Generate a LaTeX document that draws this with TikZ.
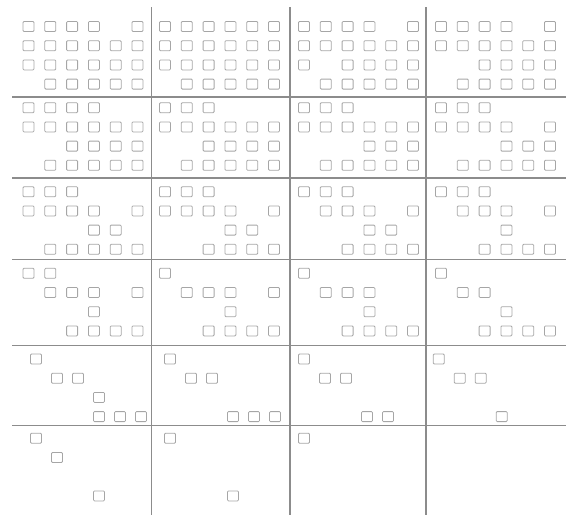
\documentclass[tikz,border=0pt]{standalone}
\usetikzlibrary{positioning}

% one cell of the table: name, x origin, y origin, column step, rows of filled slots
\newcommand{\cellsq}[5]{%
  \foreach \row [count=\i from 0] in {#5} {
    \foreach \j in \row {
      \ifnum\j<0\relax\else
        \node[sq] (#1-\i-\j) at ({#2+#4*\j},{#3+19.2*\i}) {};
      \fi
    }
  }%
}

\begin{document}
\begin{tikzpicture}[
  x=1pt, y=-1pt,
  sq/.style={draw=gray!70, line width=0.8pt, rounded corners=1pt, minimum width=11pt, minimum height=10pt, inner sep=0pt},
  rule/.style={draw=gray!90, line width=1.2pt}
]
\useasboundingbox (0,0) rectangle (566,515);

% table rules
\foreach \x [count=\k] in {151.5,290,426} {
  \coordinate (vt\k) at (\x,7);
  \coordinate (vb\k) at (\x,515);
  \draw[rule] (vt\k) -- (vb\k);
}
\foreach \y [count=\k] in {97,178,259.5,345.5,425.5} {
  \coordinate (hl\k) at (12,\y);
  \coordinate (hr\k) at (566,\y);
  \draw[rule] (hl\k) -- (hr\k);
}

% band 1
\cellsq{a1}{28.5}{26.5}{21.8}{{0,1,2,3,5},{0,1,2,3,4,5},{0,1,2,3,4,5},{1,2,3,4,5}}
\cellsq{a2}{165}{26.5}{21.8}{{0,1,2,3,4,5},{0,1,2,3,4,5},{0,1,2,3,4,5},{1,2,3,4,5}}
\cellsq{a3}{304}{26.5}{21.8}{{0,1,2,3,5},{0,1,2,3,4,5},{0,2,3,4,5},{1,2,3,4,5}}
\cellsq{a4}{441}{26.5}{21.8}{{0,1,2,3,5},{0,1,2,3,4,5},{2,3,4,5},{1,2,3,4,5}}

% band 2
\cellsq{b1}{28.5}{107.7}{21.8}{{0,1,2,3},{0,1,2,3,4,5},{2,3,4,5},{1,2,3,4,5}}
\cellsq{b2}{165}{107.7}{21.8}{{0,1,2},{0,1,2,3,4,5},{2,3,4,5},{1,2,3,4,5}}
\cellsq{b3}{304}{107.7}{21.8}{{0,1,2},{0,1,2,3,4,5},{3,4,5},{1,2,3,4,5}}
\cellsq{b4}{441}{107.7}{21.8}{{0,1,2},{0,1,2,3,5},{3,4,5},{1,2,3,4,5}}

% band 3
\cellsq{c1}{28.5}{191.7}{21.8}{{0,1,2},{0,1,2,3,5},{3,4},{1,2,3,4,5}}
\cellsq{c2}{165}{191.7}{21.8}{{0,1,2},{0,1,2,3,5},{3,4},{2,3,4,5}}
\cellsq{c3}{304}{191.7}{21.8}{{0,1,2},{1,2,3,5},{3,4},{2,3,4,5}}
\cellsq{c4}{441}{191.7}{21.8}{{0,1,2},{1,2,3,5},{3},{2,3,4,5}}

% band 4
\cellsq{d1}{28.5}{273.3}{21.8}{{0,1},{1,2,3,5},{3},{2,3,4,5}}
\cellsq{d2}{165}{273.3}{21.8}{{0},{1,2,3,5},{3},{2,3,4,5}}
\cellsq{d3}{304}{273.3}{21.8}{{0},{1,2,3},{3},{2,3,4,5}}
\cellsq{d4}{441}{273.3}{21.8}{{0},{1,2},{3},{2,3,4,5}}

% band 5
\cellsq{e1}{36}{359}{21}{{0},{1,2},{3},{3,4,5}}
\cellsq{e2}{170}{359}{21}{{0},{1,2},{-1},{3,4,5}}
\cellsq{e3}{304}{359}{21}{{0},{1,2},{-1},{3,4}}
\cellsq{e4}{438.7}{359}{21}{{0},{1,2},{-1},{3}}

% band 6
\cellsq{f1}{36}{438.3}{21}{{0},{1},{-1},{3}}
\cellsq{f2}{170}{438.3}{21}{{0},{-1},{-1},{3}}
\cellsq{f3}{304}{438.3}{21}{{0}}
\end{tikzpicture}
\end{document}
